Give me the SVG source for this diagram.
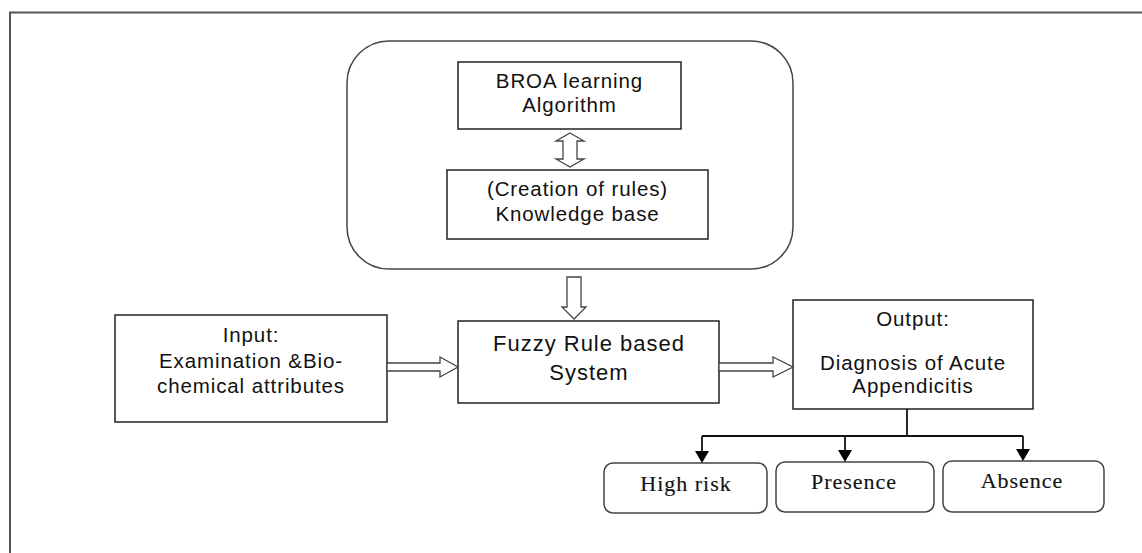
<svg xmlns="http://www.w3.org/2000/svg" width="1142" height="553" viewBox="0 0 1142 553">
<defs>
<style>
.box{fill:#fff;stroke:#222;stroke-width:1.5}
.rbox{fill:#fff;stroke:#444;stroke-width:1.5}
.hollow{fill:#fff;stroke:#444;stroke-width:1.3;stroke-linejoin:miter}
.line{fill:none;stroke:#111;stroke-width:1.8}
.head{fill:#000}
.sans{font-family:"Liberation Sans",Arial,sans-serif;font-size:20.5px;letter-spacing:0.9px;fill:#111;text-anchor:middle}
.big{font-size:22px;letter-spacing:1px}
.serif{font-family:"Liberation Serif","Times New Roman",serif;font-size:22px;letter-spacing:1px;fill:#111;text-anchor:middle;stroke:#111;stroke-width:0.15}
</style>
</defs>
<rect width="1142" height="553" fill="#fff"/>
<path d="M10,553 L10,12.5 L1142,12.5" fill="none" stroke="#555" stroke-width="2"/>

<g id="knowledge-module">
<rect x="347" y="41" width="446" height="228" rx="42" ry="42" class="rbox"/>
</g>
<g id="broa">
<rect x="458" y="62" width="223" height="67" class="box"/>
<text class="sans" x="569.5" y="88">BROA learning</text>
<text class="sans" x="569.5" y="112">Algorithm</text>
</g>
<g id="kb">
<rect x="447" y="170" width="261" height="69" class="box"/>
<text class="sans" x="577.5" y="196">(Creation of rules)</text>
<text class="sans" x="577.5" y="221">Knowledge base</text>
</g>
<g id="input">
<rect x="115" y="315" width="272" height="107" class="box"/>
<text class="sans" x="251" y="342">Input:</text>
<text class="sans" x="251" y="368">Examination &amp;Bio-</text>
<text class="sans" x="251" y="393">chemical attributes</text>
</g>
<g id="fuzzy">
<rect x="458" y="321" width="261" height="82" class="box"/>
<text class="sans big" x="589" y="351">Fuzzy Rule based</text>
<text class="sans big" x="589" y="380">System</text>
</g>
<g id="output">
<rect x="793" y="300" width="240" height="109" class="box"/>
<text class="sans" x="913" y="326">Output:</text>
<text class="sans" x="913" y="370">Diagnosis of Acute</text>
<text class="sans" x="913" y="393">Appendicitis</text>
</g>
<g id="high-risk">
<rect x="604" y="463" width="163" height="50" rx="9" ry="9" class="rbox"/>
<text class="serif" x="686" y="491">High risk</text>
</g>
<g id="presence">
<rect x="776" y="462" width="158" height="50" rx="9" ry="9" class="rbox"/>
<text class="serif" x="854" y="489">Presence</text>
</g>
<g id="absence">
<rect x="943" y="461" width="161" height="51" rx="9" ry="9" class="rbox"/>
<text class="serif" x="1022" y="488">Absence</text>
</g>

<g id="connectors">
<path class="hollow" d="M570,133 L584,141 L577,141 L577,159 L584,159 L570,167 L556,159 L563,159 L563,141 L556,141 Z"/>
<path class="hollow" d="M567,277 L581,277 L581,307 L586,307 L574,319 L562,307 L567,307 Z"/>
<path class="hollow" d="M387,363 L440,363 L440,357 L458,367 L440,377 L440,371 L387,371 Z"/>
<path class="hollow" d="M719,363 L773,363 L773,357 L793,367 L773,377 L773,371 L719,371 Z"/>
<path class="line" d="M907,409 L907,436"/>
<path class="line" d="M702,436 L1023,436"/>
<path class="line" d="M702,436 L702,452"/>
<path class="head" d="M695,451 L709,451 L702,463 Z"/>
<path class="line" d="M845,436 L845,451"/>
<path class="head" d="M838,450 L852,450 L845,462 Z"/>
<path class="line" d="M1023,436 L1023,450"/>
<path class="head" d="M1016,449 L1030,449 L1023,461 Z"/>
</g>
</svg>
